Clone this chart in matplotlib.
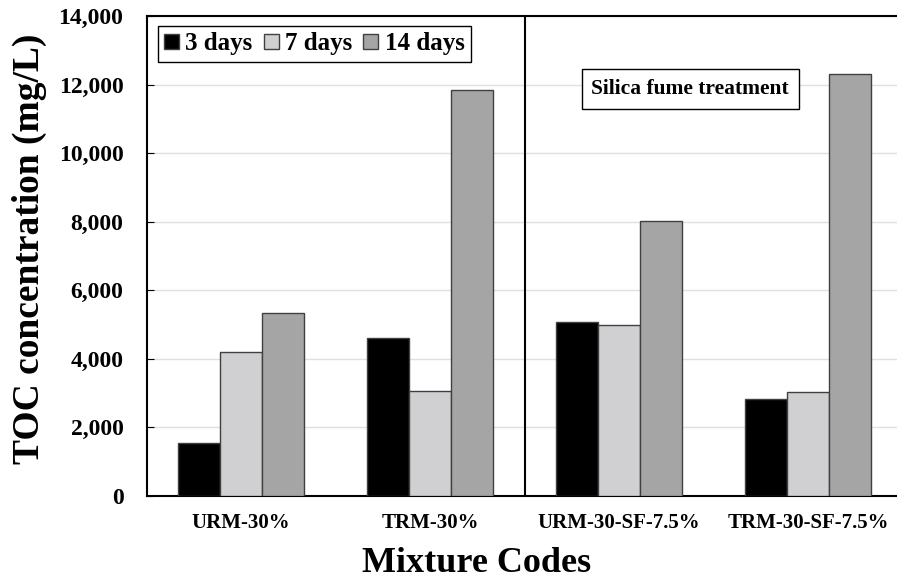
import numpy as np
import matplotlib
matplotlib.use("Agg")
import matplotlib.pyplot as plt
from matplotlib.ticker import FuncFormatter

# Data
mixtures = ['URM-30%', 'TRM-30%', 'URM-30-SF-7.5%', 'TRM-30-SF-7.5%']
days_3 = [1550, 4620, 5080, 2840]
days_7 = [4210, 3070, 5000, 3040]
days_14 = [5350, 11850, 8010, 12310]
series_labels = ['3 days', '7 days', '14 days']
colors = ['#000000', '#d0cfd1', '#a5a5a5']

plt.rcParams['font.family'] = ['Liberation Serif', 'DejaVu Serif']
plt.rcParams['font.weight'] = 'bold'

fig = plt.figure(figsize=(8.97, 5.80), dpi=100)
ax = fig.add_axes([0.1639, 0.1448, 0.8361, 0.8276])

x = np.arange(len(mixtures))
w = 0.222
for i, (vals, lab, c) in enumerate(zip([days_3, days_7, days_14], series_labels, colors)):
    ax.bar(x + (i - 1) * w, vals, width=w, color=c, edgecolor='#404040',
           linewidth=1.0, label=lab, zorder=3)

ax.set_xlim(-0.497, 3.47)
ax.set_ylim(0, 14000)
ax.set_yticks(np.arange(0, 14001, 2000))
ax.yaxis.set_major_formatter(FuncFormatter(lambda v, p: f'{int(v):,}'))
ax.grid(axis='y', color='#e0e0e0', linewidth=1.0, zorder=0)
ax.set_axisbelow(True)

ax.set_xticks(x)
ax.set_xticklabels(mixtures, fontsize=15, fontweight='bold')
ax.tick_params(axis='x', length=0, pad=12)
ax.tick_params(axis='y', direction='in', length=5, labelsize=17, pad=17)
for t in ax.get_yticklabels():
    t.set_fontweight('bold')

ax.spines['right'].set_visible(False)
for s in ['left', 'top', 'bottom']:
    ax.spines[s].set_linewidth(1.5)
    ax.spines[s].set_color('black')

ax.axvline(1.5, color='black', linewidth=1.5, zorder=4)

ax.set_ylabel('TOC concentration (mg/L)', fontsize=27, fontweight='bold')
ax.yaxis.set_label_coords(-0.133, 0.515)
ax.set_xlabel('Mixture Codes', fontsize=26, fontweight='bold')
ax.xaxis.set_label_coords(0.439, -0.106)

leg = ax.legend(loc='upper left', bbox_to_anchor=(0.014, 0.979), ncol=3,
                fancybox=False, edgecolor='black', framealpha=1,
                prop={'family': 'Liberation Serif', 'weight': 'bold', 'size': 18},
                handlelength=0.6, handleheight=0.6, handletextpad=0.25,
                columnspacing=0.45, borderpad=0.25, borderaxespad=0)
leg.get_frame().set_linewidth(1.0)

ax.text(0.724, 0.848, 'Silica fume treatment', transform=ax.transAxes,
        ha='center', va='center', fontsize=15.5, fontweight='bold',
        bbox=dict(boxstyle='square,pad=0.45', facecolor='white', edgecolor='black', linewidth=1.0),
        zorder=5)

fig.savefig('out.png', dpi=100)
